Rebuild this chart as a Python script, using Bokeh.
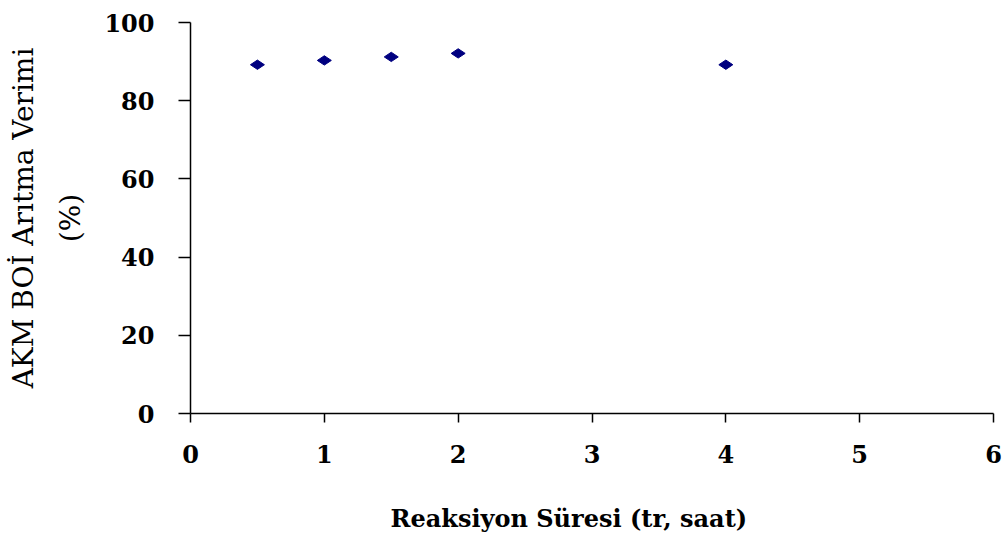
from bokeh.plotting import figure
from bokeh.models import Range1d, Title, FixedTicker
from bokeh.embed import file_html
from bokeh.resources import INLINE
import math

# Data
reaction_time = [0.5, 1.0, 1.5, 2.0, 4.0]
efficiency = [89.2, 90.3, 91.2, 92.1, 89.2]
x_ticks = [0, 1, 2, 3, 4, 5, 6]
y_ticks = [0, 20, 40, 60, 80, 100]
x_title = "Reaksiyon Süresi (tr, saat)"
y_title = "AKM BOİ Arıtma Verimi\n(%)"

SERIF = "DejaVu Serif"

p = figure(width=1005, height=543, output_backend="svg", toolbar_location=None,
           x_range=Range1d(0, 6), y_range=Range1d(0, 100),
           min_border_left=190, min_border_right=12, min_border_top=22, min_border_bottom=130)
p.outline_line_color = None
p.xgrid.grid_line_color = None
p.ygrid.grid_line_color = None
p.background_fill_color = "white"
p.border_fill_color = "white"

p.scatter(reaction_time, efficiency, marker="diamond", size=14, angle=math.pi / 2,
          fill_color="#000080", line_color="#000080")

for ax in (p.xaxis[0], p.yaxis[0]):
    ax.axis_line_width = 1.5
    ax.axis_line_color = "black"
    ax.major_tick_line_width = 1.5
    ax.major_tick_line_color = "black"
    ax.minor_tick_line_color = None
    ax.major_tick_in = 0
    ax.major_label_text_font = SERIF
    ax.major_label_text_font_style = "bold"
    ax.major_label_text_font_size = "24px"
    ax.major_label_text_color = "black"

p.xaxis[0].ticker = FixedTicker(ticks=x_ticks)
p.yaxis[0].ticker = FixedTicker(ticks=y_ticks)
p.xaxis[0].major_tick_out = 9
p.yaxis[0].major_tick_out = 12
p.xaxis[0].major_label_standoff = 22
p.yaxis[0].major_label_standoff = 24

# spacer label to push the x title down
p.xaxis[0].axis_label = " "
p.xaxis[0].axis_label_text_font_size = "10px"
p.xaxis[0].axis_label_standoff = 22

p.yaxis[0].axis_label = y_title
p.yaxis[0].axis_label_text_font = SERIF
p.yaxis[0].axis_label_text_font_style = "normal"
p.yaxis[0].axis_label_text_font_size = "28px"
p.yaxis[0].axis_label_text_color = "black"
p.yaxis[0].axis_label_text_line_height = 1.45
p.yaxis[0].axis_label_standoff = 14

p.add_layout(Title(text=x_title, align="left", offset=200, text_font=SERIF,
                   text_font_size="24px", text_font_style="bold", text_color="black",
                   standoff=0), "below")

open("out.html", "w").write(file_html(p, INLINE))
